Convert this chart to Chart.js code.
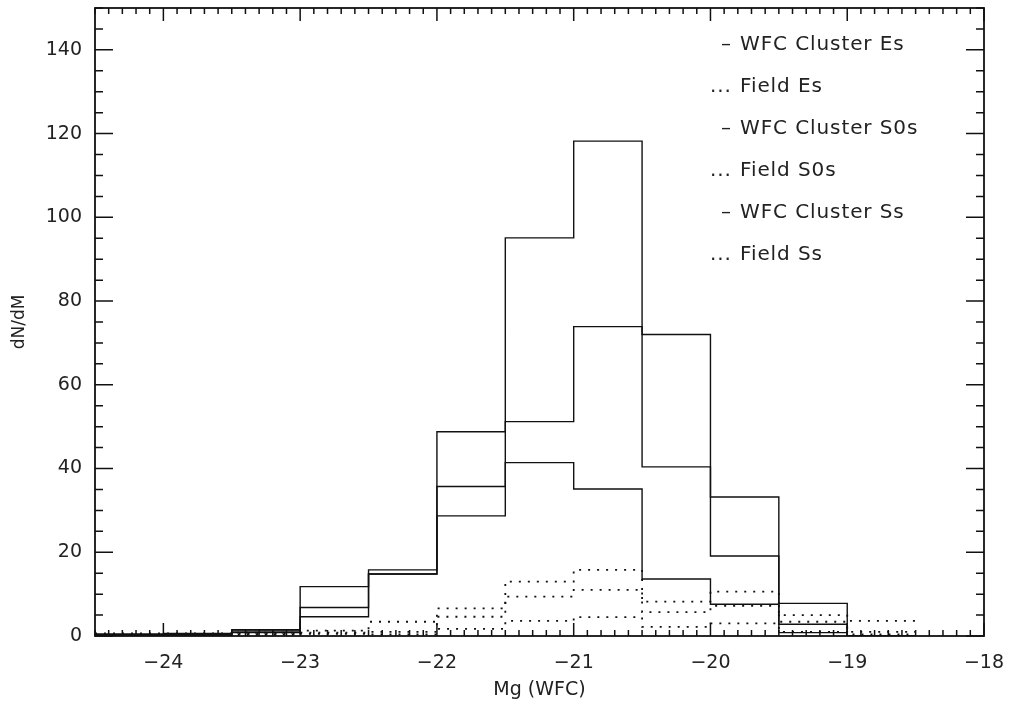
<!DOCTYPE html>
<html>
<head>
<meta charset="utf-8">
<script src="https://cdn.jsdelivr.net/npm/chart.js@4"></script>
<style>
  html, body { margin: 0; padding: 0; background: #fff; }
  #wrap { width: 1016px; height: 705px; }
</style>
</head>
<body>
<div id="wrap"><canvas id="lumChart" width="1016" height="705"></canvas></div>
<script>
// bin edges in Mg (WFC), bins are 0.5 mag wide
var binEdges = [-24.5, -24, -23.5, -23, -22.5, -22, -21.5, -21, -20.5, -20, -19.5, -19, -18.5];

// cluster counts (solid)
var clusterEs  = [0.5, 0.3, 1.5, 11.8, 15.8, 48.8, 95.1, 118.2, 72.0, 33.2, 7.8, 0];
var clusterS0s = [0.3, 0.6, 1.2, 6.8, 14.8, 35.7, 51.2, 73.9, 40.4, 19.1, 2.8, 0];
var clusterSs  = [0, 0.2, 0.8, 4.6, 14.8, 28.7, 41.4, 35.1, 13.6, 7.6, 0.8, 0];

// field counts (dotted)
var fieldEs  = [0.3, 0.3, 0.8, 1.3, 3.4, 6.6, 13.0, 15.8, 8.2, 10.6, 5.0, 3.6];
var fieldS0s = [0.6, 0.6, 0.5, 0.8, 1.0, 4.6, 9.4, 11.0, 5.7, 7.2, 3.4, 1.0];
var fieldSs  = [0, 0.2, 0.3, 0.5, 0.4, 1.7, 3.6, 4.5, 2.2, 3.0, 1.0, 0.4];

var seriesNames = ["WFC Cluster Es", "Field Es", "WFC Cluster S0s", "Field S0s", "WFC Cluster Ss", "Field Ss"];
var seriesMarks = ["\u2013", "...", "\u2013", "...", "\u2013", "..."];

var xTickVals = [-24, -23, -22, -21, -20, -19, -18];
var yTickVals = [0, 20, 40, 60, 80, 100, 120, 140];

var FONT = '"DejaVu Sans", "Liberation Sans", sans-serif';

// turn bin values into step points (left edge of each bin + closing right edge)
function histPoints(vals) {
  var pts = [];
  for (var i = 0; i < vals.length; i++) {
    pts.push({x: binEdges[i], y: vals[i]});
  }
  pts.push({x: binEdges[vals.length], y: vals[vals.length - 1]});
  return pts;
}

function histSet(name, vals, dotted) {
  return {
    label: name,
    data: histPoints(vals),
    stepped: true,
    borderColor: '#111',
    borderWidth: dotted ? 1.8 : 1.4,
    borderDash: dotted ? [2, 7] : [],
    pointRadius: 0,
    fill: false
  };
}

function noPad(scale) {
  scale.paddingTop = 0; scale.paddingBottom = 0;
  scale.paddingLeft = 0; scale.paddingRight = 0;
}

// inward ticks on all four sides, frame box, and the text legend
var frameTicks = {
  id: 'frameTicks',
  afterDraw: function(chart) {
    var ctx = chart.ctx;
    var a = chart.chartArea;
    var xs = chart.scales.x, ys = chart.scales.y;
    ctx.save();
    ctx.strokeStyle = '#111';
    ctx.lineWidth = 1.5;
    ctx.beginPath();
    for (var k = -245; k <= -180; k++) {
      var px = xs.getPixelForValue(k / 10);
      var len = (k % 10 === 0) ? 13 : 6;
      ctx.moveTo(px, a.bottom); ctx.lineTo(px, a.bottom - len);
      ctx.moveTo(px, a.top); ctx.lineTo(px, a.top + len);
    }
    for (var j = 0; j <= 150; j += 5) {
      var py = ys.getPixelForValue(j);
      var l2 = (j % 20 === 0) ? 18 : 8;
      ctx.moveTo(a.left, py); ctx.lineTo(a.left + l2, py);
      ctx.moveTo(a.right, py); ctx.lineTo(a.right - l2, py);
    }
    ctx.stroke();
    ctx.lineWidth = 1.8;
    ctx.strokeRect(a.left, a.top, a.right - a.left, a.bottom - a.top);

    // legend text
    ctx.fillStyle = '#222';
    ctx.font = '20px ' + FONT;
    ctx.letterSpacing = '0.9px';
    ctx.textBaseline = 'middle';
    for (var i = 0; i < seriesNames.length; i++) {
      var ty = 45 + i * 42;
      var mx = seriesMarks[i] === '...' ? 710 : 721;
      ctx.fillText(seriesMarks[i], mx, ty);
      ctx.fillText(seriesNames[i], 740, ty);
    }
    ctx.restore();
  }
};

var ctxL = document.getElementById("lumChart").getContext('2d');
var lumChart = new Chart(ctxL, {
  type: 'line',
  data: {
    datasets: [
      histSet(seriesNames[0], clusterEs, false),
      histSet(seriesNames[1], fieldEs, true),
      histSet(seriesNames[2], clusterS0s, false),
      histSet(seriesNames[3], fieldS0s, true),
      histSet(seriesNames[4], clusterSs, false),
      histSet(seriesNames[5], fieldSs, true)
    ]
  },
  options: {
    responsive: false,
    animation: false,
    layout: { padding: { left: 0, right: 32, top: 8, bottom: 0 } },
    plugins: {
      legend: { display: false },
      tooltip: { enabled: false }
    },
    scales: {
      x: {
        type: 'linear',
        min: -24.5,
        max: -18,
        grid: { display: false, drawTicks: false },
        border: { display: false },
        afterBuildTicks: function(scale) {
          scale.ticks = xTickVals.map(function(v) { return {value: v}; });
        },
        afterFit: function(scale) { scale.height = 69; noPad(scale); },
        ticks: {
          padding: 16,
          color: '#222',
          font: { family: FONT, size: 19 },
          maxRotation: 0,
          callback: function(v) { return String(v).replace('-', '\u2212'); }
        },
        title: {
          display: true,
          text: 'Mg (WFC)',
          color: '#222',
          font: { family: FONT, size: 19 },
          padding: { top: 0, bottom: 4 }
        }
      },
      y: {
        min: 0,
        max: 150,
        grid: { display: false, drawTicks: false },
        border: { display: false },
        afterBuildTicks: function(scale) {
          scale.ticks = yTickVals.map(function(v) { return {value: v}; });
        },
        afterFit: function(scale) { scale.width = 95; noPad(scale); },
        ticks: {
          padding: 13,
          color: '#222',
          font: { family: FONT, size: 19 }
        },
        title: {
          display: true,
          text: 'dN/dM',
          color: '#222',
          font: { family: FONT, size: 17 },
          padding: { top: 9, bottom: 0 }
        }
      }
    }
  },
  plugins: [frameTicks]
});
</script>
</body>
</html>
